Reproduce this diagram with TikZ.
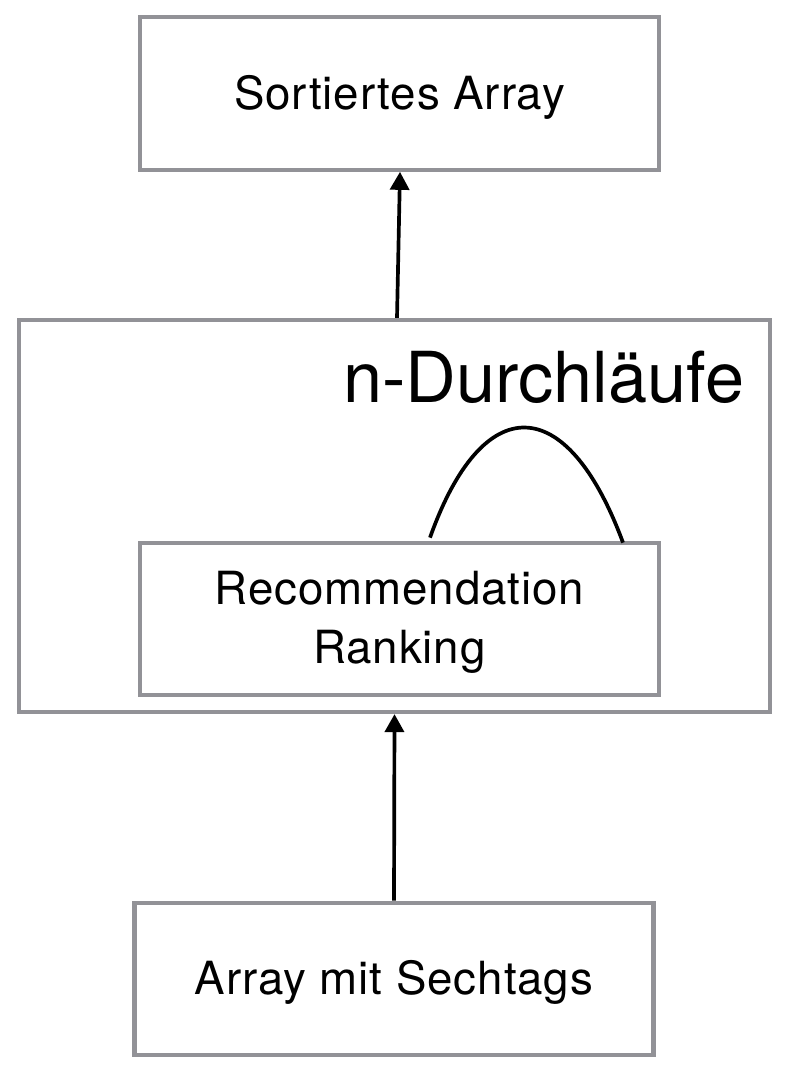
\documentclass[tikz,border=0pt]{standalone}
\usepackage{fontspec}
\setmainfont{TeX Gyre Heros}
\newfontfamily\boxfont[LetterSpace=2]{TeX Gyre Heros}
\usetikzlibrary{arrows.meta}
\definecolor{framegray}{RGB}{146,146,151}
\begin{document}
\begin{tikzpicture}[>={Triangle[length=0.36cm, width=0.38cm]}, line width=2.1pt,
    stage/.style={draw=framegray, line width=2.4pt, inner sep=0pt, align=center,
        minimum width=10.38cm, minimum height=3.05cm, text depth=0.05cm,
        font=\boxfont\fontsize{26}{33.5}\selectfont}]
        \useasboundingbox (0, 0) rectangle (15.72, 21.6);
        \node[stage] (sorted) at (7.99, 19.73) {Sortiertes Array};
        \node[stage, minimum width=15.02cm, minimum height=7.84cm] (passes) at (7.89, 11.28) {};
        \node[stage] (ranking) at (7.99, 9.22) {Recommendation\\Ranking};
        \node[stage] (input) at (7.88, 2.02) {Array mit Sechtags};
        \node[anchor=base east, inner sep=0pt, font=\fontsize{40}{44}\selectfont] (label) at (14.92, 13.54) {n-Durchläufe};
        \draw[->] ([xshift=0.05cm]passes.north) -- ([xshift=0.01cm]sorted.south);
        \draw[->] (input.north) -- (passes.south);
        \draw ([xshift=0.61cm, yshift=0.06cm]ranking.north)
            .. controls (9.65, 13.8) and (11.33, 13.8) .. ([xshift=4.47cm, yshift=-0.04cm]ranking.north);
    \end{tikzpicture}
\end{document}
